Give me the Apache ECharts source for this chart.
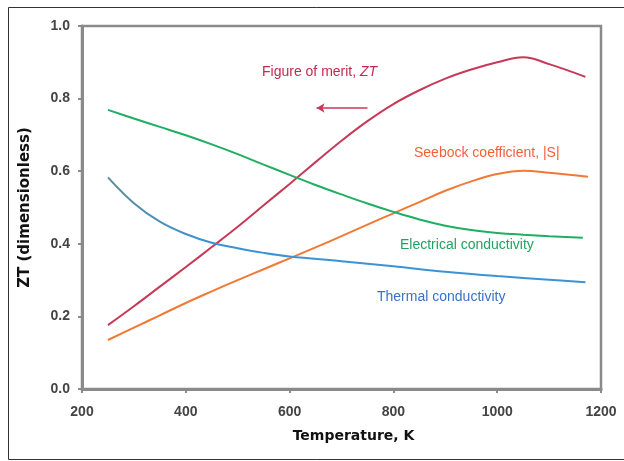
<!DOCTYPE html>
<html>
<head>
<meta charset="utf-8">
<script src="https://cdn.jsdelivr.net/npm/echarts@6/dist/echarts.min.js"></script>
<style>
  html, body { margin: 0; padding: 0; background: #fff; }
  #main { width: 624px; height: 461px; }
</style>
</head>
<body>
<div id="main"></div>
<script>
// values, [temperature K, value]
var ztData = [[250, 0.176], [300, 0.228], [350, 0.282], [400, 0.336], [450, 0.391], [500, 0.447], [550, 0.506], [600, 0.565], [650, 0.625], [700, 0.684], [750, 0.738], [800, 0.785], [850, 0.823], [900, 0.855], [950, 0.88], [1000, 0.9], [1050, 0.914], [1100, 0.895], [1170, 0.86]]
var seebeckData = [[250, 0.135], [300, 0.169], [350, 0.203], [400, 0.237], [450, 0.269], [500, 0.3], [550, 0.33], [600, 0.36], [650, 0.39], [700, 0.421], [750, 0.453], [800, 0.484], [850, 0.515], [900, 0.546], [950, 0.572], [1000, 0.592], [1050, 0.601], [1100, 0.596], [1175, 0.585]]
var elecData = [[250, 0.769], [300, 0.745], [350, 0.722], [400, 0.699], [450, 0.674], [500, 0.647], [550, 0.618], [600, 0.59], [650, 0.562], [700, 0.536], [750, 0.511], [800, 0.488], [850, 0.467], [900, 0.45], [950, 0.438], [1000, 0.43], [1050, 0.425], [1100, 0.421], [1165, 0.417]]
var thermalData = [[250, 0.583], [300, 0.512], [350, 0.461], [400, 0.427], [450, 0.403], [500, 0.388], [550, 0.375], [600, 0.365], [700, 0.352], [800, 0.338], [900, 0.323], [1000, 0.311], [1100, 0.301], [1170, 0.294]]
var xTicks = [200, 400, 600, 800, 1000, 1200]
var yTicks = [0, 0.2, 0.4, 0.6, 0.8, 1.0]

var myChart = echarts.init(document.getElementById('main'))

var axisGray = '#8a8a8a'
var labelFont = '"Liberation Sans", Arial, sans-serif'
var noteFont = '14px "Liberation Sans", Arial, sans-serif'

var option = {
  animation: false,
  grid: {
    left: 82,
    top: 26,
    right: 23,
    bottom: 72,
    show: true,
    borderColor: axisGray,
    borderWidth: 2.5
  },
  xAxis: {
    type: 'value',
    min: xTicks[0],
    max: xTicks[xTicks.length - 1],
    interval: 200,
    name: 'Temperature, K',
    nameLocation: 'middle',
    nameGap: 40,
    nameTextStyle: { fontFamily: '"DejaVu Sans", sans-serif', fontWeight: 'bold', fontSize: 14, color: '#111', padding: [0, 0, 0, 24] },
    axisLine: { lineStyle: { color: axisGray, width: 3 } },
    axisTick: { show: true, length: 4, lineStyle: { color: axisGray, width: 2 } },
    axisLabel: {
      margin: 16,
      fontFamily: labelFont,
      fontWeight: 'bold',
      fontSize: 14,
      color: '#444',
      formatter: function (v) { return String(v) }
    },
    splitLine: { show: false }
  },
  yAxis: {
    type: 'value',
    min: yTicks[0],
    max: yTicks[yTicks.length - 1],
    interval: 0.2,
    name: 'ZT (dimensionless)',
    nameLocation: 'middle',
    nameGap: 49,
    nameTextStyle: { fontFamily: '"DejaVu Sans", sans-serif', fontWeight: 'bold', fontSize: 15, color: '#111' },
    axisLine: { lineStyle: { color: axisGray, width: 3 } },
    axisTick: { show: true, length: 4, lineStyle: { color: axisGray, width: 2 } },
    axisLabel: {
      margin: 12,
      fontFamily: labelFont,
      fontWeight: 'bold',
      fontSize: 14,
      color: '#444',
      formatter: function (v) { return v.toFixed(1) }
    },
    splitLine: { show: false }
  },
  series: [
    {
      name: 'Figure of merit, ZT',
      type: 'line',
      smooth: 0.4,
      showSymbol: false,
      data: ztData,
      lineStyle: { color: '#c63a58', width: 2 },
      markLine: {
        silent: true,
        symbol: ['none', 'arrow'],
        symbolSize: [7, 8],
        label: { show: false },
        lineStyle: { color: '#c63a58', width: 1.5, type: 'solid' },
        data: [[{ coord: [750, 0.774] }, { coord: [652, 0.774] }]]
      }
    },
    {
      name: 'Seebock coefficient, |S|',
      type: 'line',
      smooth: 0.4,
      showSymbol: false,
      data: seebeckData,
      lineStyle: { color: '#f07a35', width: 2 }
    },
    {
      name: 'Electrical conductivity',
      type: 'line',
      smooth: 0.4,
      showSymbol: false,
      data: elecData,
      lineStyle: { color: '#1fae62', width: 2 }
    },
    {
      name: 'Thermal conductivity',
      type: 'line',
      smooth: 0.4,
      showSymbol: false,
      data: thermalData,
      lineStyle: {
        width: 2,
        color: new echarts.graphic.LinearGradient(0, 0, 1, 0, [
          { offset: 0, color: '#5a8d98' },
          { offset: 0.2, color: '#3b93d6' },
          { offset: 1, color: '#3b93d6' }
        ])
      }
    }
  ],
  graphic: [
    {
      type: 'rect',
      silent: true,
      shape: { x: 8.5, y: 7.5, width: 640, height: 452 },
      style: { fill: 'none', stroke: '#333', lineWidth: 1 }
    },
    {
      type: 'text', left: 262, top: 65,
      style: {
        text: 'Figure of merit, {i|ZT}',
        fill: '#c22a4e', font: noteFont,
        rich: { i: { fontStyle: 'italic', fontSize: 14, fill: '#c22a4e', fontFamily: '"Liberation Sans", Arial, sans-serif' } }
      }
    },
    {
      type: 'text', left: 414, top: 146,
      style: { text: 'Seebock coefficient, |S|', fill: '#f2603a', font: noteFont }
    },
    {
      type: 'text', left: 400, top: 238,
      style: { text: 'Electrical conductivity', fill: '#22a262', font: noteFont }
    },
    {
      type: 'text', left: 377, top: 290,
      style: { text: 'Thermal conductivity', fill: '#3a72c8', font: noteFont }
    }
  ]
}

myChart.setOption(option)
window.addEventListener('resize', function () {
  myChart.resize()
})
</script>
</body>
</html>
